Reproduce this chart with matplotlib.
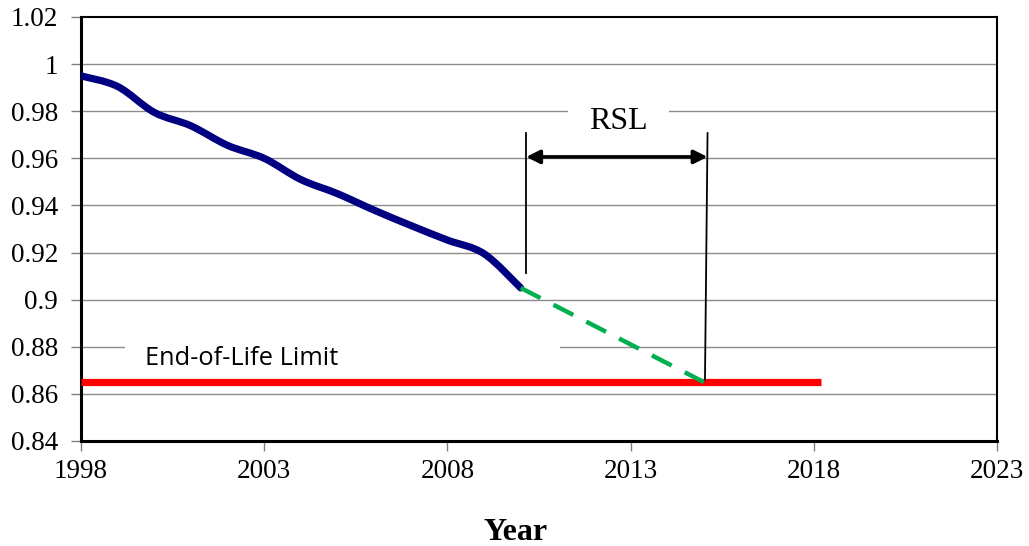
import matplotlib
matplotlib.use("Agg")
import matplotlib.pyplot as plt
from matplotlib.patches import Rectangle, PathPatch
from matplotlib.path import Path

# data
years = [1998, 1999, 2000, 2001, 2002, 2003, 2004, 2005, 2006, 2007, 2008, 2009, 2010]
values = [0.995, 0.9905, 0.9795, 0.9738, 0.9655, 0.9600, 0.9510, 0.9450, 0.9380, 0.9315, 0.9253, 0.9195, 0.9050]
proj_years = [2010, 2015]
proj_values = [0.905, 0.865]
limit_years = [1998, 2018.2]
limit_values = [0.865, 0.865]
rsl_start, rsl_end = 2010.15, 2015.1
xticks = [1998, 2003, 2008, 2013, 2018, 2023]
yticks = [0.84, 0.86, 0.88, 0.90, 0.92, 0.94, 0.96, 0.98, 1.00, 1.02]
ytick_labels = ["0.84", "0.86", "0.88", "0.9", "0.92", "0.94", "0.96", "0.98", "1", "1.02"]

serif = ["Liberation Serif", "DejaVu Serif"]

fig = plt.figure(figsize=(10.29, 5.46), dpi=100)
ax = fig.add_axes([81/1029, 1-441/546, (997-81)/1029, (441-17)/546])

ax.set_xlim(1998, 2023)
ax.set_ylim(0.84, 1.02)
ax.set_xticks(xticks)
ax.set_xticklabels([str(x) for x in xticks], fontfamily=serif, fontsize=19.5)
ax.set_yticks(yticks)
ax.set_yticklabels(ytick_labels, fontfamily=serif, fontsize=19.5)
ax.tick_params(axis="both", direction="out", length=7, width=1, color="#808080")
ax.tick_params(axis="y", pad=9.5)
ax.tick_params(axis="x", pad=6)

for y in yticks[1:-1]:
    ax.axhline(y, color="#8c8c8c", lw=1.0, zorder=1)

for s in ax.spines.values():
    s.set_color("black")
    s.set_linewidth(1.5)
ax.spines["left"].set_linewidth(2.2)
ax.spines["bottom"].set_linewidth(2.2)

# white boxes behind labels
ax.add_patch(Rectangle((1999.2, 0.876), 2011.07-1999.2, 0.008, facecolor="white", edgecolor="none", zorder=1.5))
ax.add_patch(Rectangle((2011.29, 0.976), 2014.05-2011.29, 0.008, facecolor="white", edgecolor="none", zorder=1.5))

ax.plot(limit_years, limit_values, color="#ff0000", lw=5.2, solid_capstyle="butt", zorder=3)

# smooth (Catmull-Rom) rendering of the measured series
def smooth_path(xs, ys):
    pts = list(zip(xs, ys))
    verts = [pts[0]]
    codes = [Path.MOVETO]
    n = len(pts)
    for i in range(n - 1):
        p0 = pts[i - 1] if i > 0 else pts[i]
        p1 = pts[i]
        p2 = pts[i + 1]
        p3 = pts[i + 2] if i + 2 < n else pts[i + 1]
        c1 = (p1[0] + (p2[0] - p0[0]) / 6, p1[1] + (p2[1] - p0[1]) / 6)
        c2 = (p2[0] - (p3[0] - p1[0]) / 6, p2[1] - (p3[1] - p1[1]) / 6)
        verts += [c1, c2, p2]
        codes += [Path.CURVE4] * 3
    return Path(verts, codes)

ax.add_patch(PathPatch(smooth_path(years, values), facecolor="none", edgecolor="#000080",
                       lw=5.2, capstyle="round", joinstyle="round", zorder=4))
ax.plot(proj_years, proj_values, color="#00b050", lw=3.2, dashes=(5, 3.3), zorder=4)

# RSL markers
ax.plot([rsl_start, rsl_start], [0.9707, 0.9113], color="black", lw=1.3, zorder=5)
ax.plot([rsl_end, rsl_end - 0.07], [0.9707, 0.866], color="black", lw=1.3, zorder=5)
ax.annotate("", xy=(rsl_start, 0.9606), xytext=(rsl_end, 0.9606),
            arrowprops=dict(arrowstyle="<|-|>", color="black", lw=2.6, mutation_scale=20,
                            shrinkA=0, shrinkB=0), zorder=5)
ax.text((2011.29 + 2014.05) / 2, 0.9755, "RSL", fontfamily=serif, fontsize=23,
        ha="center", va="center", zorder=6)
ax.text(1999.75, 0.8752, "End-of-Life Limit", fontfamily=["Open Sans", "DejaVu Sans"], fontsize=18.3,
        ha="left", va="center", zorder=6)

fig.text(516/1029, 1-540/546, "Year", fontfamily=serif, fontsize=23, fontweight="bold",
         ha="center", va="baseline")

fig.savefig("out.png", dpi=100)
